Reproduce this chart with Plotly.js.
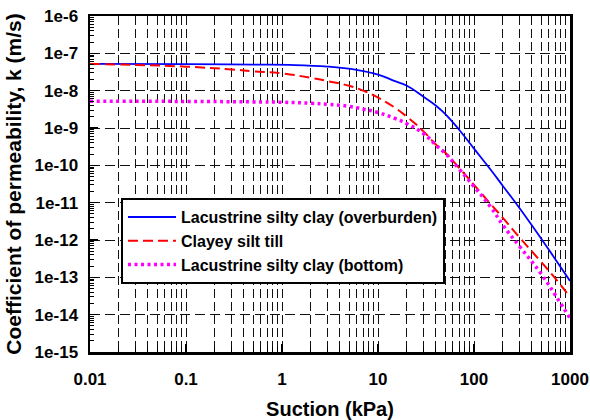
<!DOCTYPE html>
<html>
<head>
<meta charset="utf-8">
<script src="https://cdn.plot.ly/plotly-3.0.1.min.js"></script>
<style>
  html, body { margin: 0; padding: 0; background: #fff; }
  #chart { width: 590px; height: 420px; }
</style>
</head>
<body>
<div id="chart"></div>
<script>
// Permeability functions k(suction) for the three soil layers
const suctionOverburden = [0.01, 0.1, 0.5, 1.2, 3, 6, 10, 15, 20, 30, 40, 50, 70, 100, 150, 200, 300, 500, 700, 1000];
const kOverburden = [5.2e-8, 5.15e-8, 5.0e-8, 4.9e-8, 4.4e-8, 3.6e-8, 2.7e-8, 1.8e-8, 1.35e-8, 6.8e-9, 4.0e-9, 2.4e-9, 9e-10, 2.8e-10, 7.5e-11, 2.8e-11, 7e-12, 1.1e-12, 3.1e-13, 8e-14];

const suctionTill = [0.01, 0.03, 0.1, 0.3, 0.5, 1, 2, 3, 5, 7, 10, 15, 20, 30, 40, 50, 70, 100, 150, 200, 300, 500, 700, 1000];
const kTill = [5.2e-8, 4.9e-8, 4.4e-8, 3.7e-8, 3.3e-8, 2.9e-8, 2.2e-8, 1.8e-8, 1.35e-8, 1.0e-8, 6.5e-9, 3.5e-9, 2.0e-9, 8e-10, 3.6e-10, 2.2e-10, 8.5e-11, 3e-11, 9e-12, 3.9e-12, 1.15e-12, 2.6e-13, 9.5e-14, 3e-14];

const suctionBottom = [0.01, 0.1, 0.5, 1, 2, 3, 5, 7, 10, 15, 20, 30, 40, 50, 70, 100, 150, 200, 300, 500, 700, 1000];
const kBottom = [5.2e-9, 5.15e-9, 5.0e-9, 4.9e-9, 4.6e-9, 4.3e-9, 3.8e-9, 3.2e-9, 2.6e-9, 1.8e-9, 1.3e-9, 7e-10, 3.5e-10, 2.1e-10, 8e-11, 2.7e-11, 7.5e-12, 2.5e-12, 6.6e-13, 1.25e-13, 3.4e-14, 8e-15];

const seriesNames = [
  'Lacustrine silty clay (overburden)',
  'Clayey silt till',
  'Lacustrine silty clay (bottom)'
];

const xTickVals = [0.01, 0.1, 1, 10, 100, 1000];
const xTickText = ['0.01', '0.1', '1', '10', '100', '1000'];
const yTickVals = [1e-15, 1e-14, 1e-13, 1e-12, 1e-11, 1e-10, 1e-9, 1e-8, 1e-7, 1e-6];
const yTickText = ['1e-15', '1e-14', '1e-13', '1e-12', '1e-11', '1e-10', '1e-9', '1e-8', '1e-7', '1e-6'];

const FONT = 'Liberation Sans, Arial, sans-serif';
const GRID = '#111';

const traces = [
  {
    x: suctionOverburden, y: kOverburden, name: seriesNames[0],
    mode: 'lines', line: { color: '#0000ff', width: 1.8, shape: 'spline', smoothing: 1.3 }
  },
  {
    x: suctionTill, y: kTill, name: seriesNames[1],
    mode: 'lines', line: { color: '#ff0000', width: 2, dash: '10px,5px', shape: 'spline', smoothing: 1.3 }
  },
  {
    x: suctionBottom, y: kBottom, name: seriesNames[2],
    mode: 'lines', line: { color: '#ff00ff', width: 3.5, dash: '3px,3.5px', shape: 'spline', smoothing: 1.3 }
  }
];

const layout = {
  width: 590, height: 420,
  margin: { l: 90, r: 20, t: 16, b: 68 },
  paper_bgcolor: '#fff', plot_bgcolor: '#fff',
  font: { family: FONT, color: '#000' },
  showlegend: true,
  legend: {
    x: 0.0646, y: 0.458, xanchor: 'left', yanchor: 'top',
    bgcolor: '#fff', bordercolor: '#000', borderwidth: 2,
    font: { family: FONT, size: 16, color: '#000', weight: 'bold' },
    itemwidth: 48,
    tracegroupgap: 0
  },
  xaxis: {
    type: 'log', range: [-2, 3],
    tickvals: xTickVals, ticktext: xTickText,
    tickfont: { family: FONT, size: 17, weight: 'bold' },
    ticks: 'inside', ticklen: 8, tickwidth: 1.5, tickcolor: '#000',
    ticklabelstandoff: 10,
    showline: true, linecolor: '#000', linewidth: 2.5, mirror: true,
    showgrid: true, gridcolor: GRID, gridwidth: 1, griddash: '9px,4px',
    minor: { dtick: 'D1', ticks: 'inside', ticklen: 5, tickcolor: '#000', tickwidth: 1, showgrid: true, gridcolor: GRID, gridwidth: 1, griddash: '9px,4px' },
    zeroline: false,
    title: { text: 'Suction (kPa)', font: { family: FONT, size: 20, weight: 'bold' }, standoff: 14 }
  },
  yaxis: {
    type: 'log', range: [-15, -6],
    tickvals: yTickVals, ticktext: yTickText,
    tickfont: { family: FONT, size: 17, weight: 'bold' },
    ticks: 'inside', ticklen: 8, tickwidth: 1.5, tickcolor: '#000',
    ticklabelstandoff: 6,
    showline: true, linecolor: '#000', linewidth: 2.5, mirror: true,
    showgrid: true, gridcolor: GRID, gridwidth: 1, griddash: '10px,5px',
    minor: { dtick: 'D1', ticks: 'inside', ticklen: 4, tickcolor: '#000', tickwidth: 1, showgrid: false },
    zeroline: false,
    title: { text: 'Coefficient of permeability, k (m/s)', font: { family: FONT, size: 21, weight: 'bold' }, standoff: 8 }
  }
};

Plotly.newPlot('chart', traces, layout, { displayModeBar: false, staticPlot: true });
</script>
</body>
</html>
